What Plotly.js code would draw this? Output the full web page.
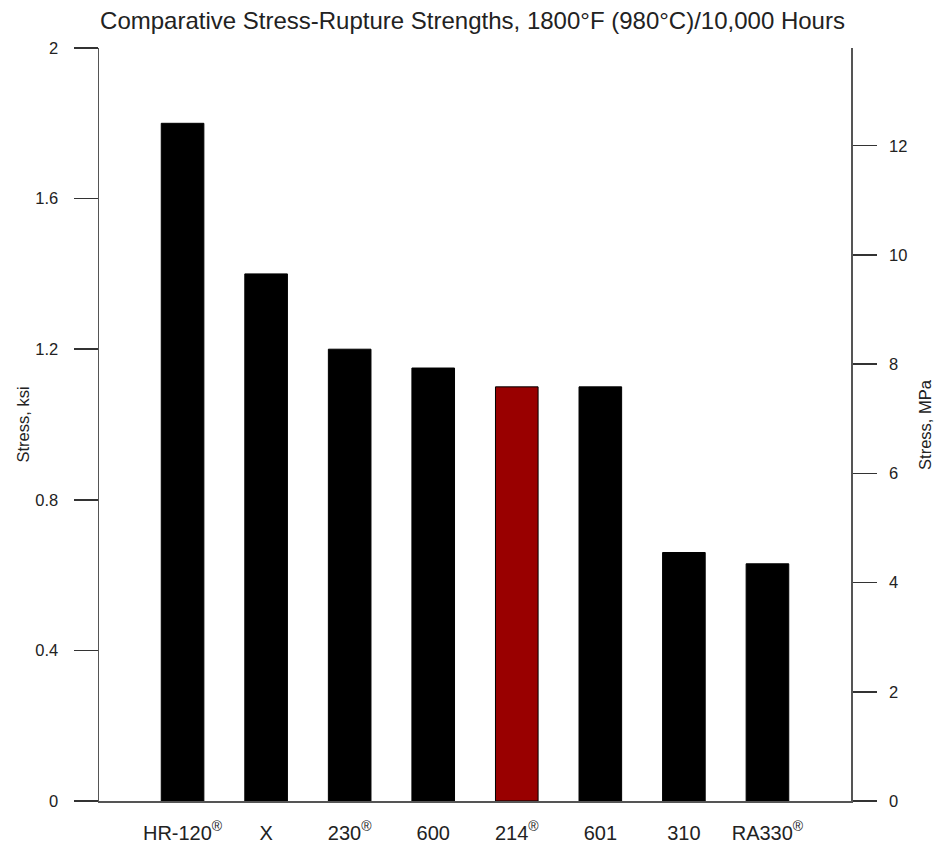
<!DOCTYPE html>
<html>
<head>
<meta charset="utf-8">
<script src="https://cdn.plot.ly/plotly-3.0.1.min.js"></script>
<style>html,body{margin:0;padding:0;background:#fff;}#chart{width:936px;height:848px;}</style>
</head>
<body>
<div id="chart"></div>
<script>
const alloys = ["HR-120", "X", "230", "600", "214", "601", "310", "RA330"];
const tickLabels = ["HR-120<sup>®</sup>", "X", "230<sup>®</sup>", "600", "214<sup>®</sup>", "601", "310", "RA330<sup>®</sup>"];
const stressKsi = [1.80, 1.40, 1.20, 1.15, 1.10, 1.10, 0.66, 0.63];
const barColors = ["#000000", "#000000", "#000000", "#000000", "#990000", "#000000", "#000000", "#000000"];
const KSI_TO_MPA = 6.895;
const leftTicks = [0, 0.4, 0.8, 1.2, 1.6, 2];
const rightTicks = [0, 2, 4, 6, 8, 10, 12];
const rightTitle = "Stress, MPa";

const font = "Liberation Sans, Arial, sans-serif";

const traces = [
  {
    type: "bar",
    x: alloys,
    y: stressKsi,
    marker: { color: barColors, line: { color: "#000000", width: 1 } },
    hoverinfo: "x+y",
    showlegend: false
  },
  {
    type: "scatter",
    mode: "none",
    x: alloys,
    y: stressKsi.map(v => v * KSI_TO_MPA),
    yaxis: "y2",
    hoverinfo: "skip",
    showlegend: false
  }
];

const layout = {
  width: 936,
  height: 848,
  paper_bgcolor: "#ffffff",
  plot_bgcolor: "#ffffff",
  margin: { l: 98.5, r: 84.5, t: 48, b: 47 },
  font: { family: font, color: "#222222" },
  bargap: 0.49,
  title: {
    text: "Comparative Stress-Rupture Strengths, 1800°F (980°C)/10,000 Hours",
    font: { family: font, size: 24, color: "#222222" },
    x: 0.5048, xanchor: "center", xref: "container",
    y: 1 - 21 / 848, yanchor: "middle", yref: "container"
  },
  xaxis: {
    type: "category",
    range: [-1, 8],
    tickvals: alloys,
    ticktext: tickLabels,
    ticks: "",
    showgrid: false,
    zeroline: false,
    showline: true,
    linecolor: "#555555",
    linewidth: 1.5,
    tickfont: { family: font, size: 20, color: "#222222" },
    ticklabelstandoff: 13,
    fixedrange: true
  },
  yaxis: {
    range: [0, 2],
    tickvals: leftTicks,
    ticktext: leftTicks.map(String),
    ticks: "outside",
    ticklen: 24,
    tickwidth: 1.5,
    tickcolor: "#333333",
    showgrid: false,
    zeroline: false,
    showline: true,
    linecolor: "#555555",
    linewidth: 1.5,
    tickfont: { family: font, size: 16.5, color: "#222222" },
    ticklabelstandoff: 12,
    title: { text: "Stress, ksi", font: { family: font, size: 16.5, color: "#222222" }, standoff: 1 },
    fixedrange: true
  },
  yaxis2: {
    overlaying: "y",
    side: "right",
    range: [0, 2 * KSI_TO_MPA],
    tickvals: rightTicks,
    ticktext: rightTicks.map(v => "\u00a0\u00a0" + v),
    ticks: "outside",
    ticklen: 24,
    tickwidth: 1.5,
    tickcolor: "#333333",
    showgrid: false,
    zeroline: false,
    showline: true,
    linecolor: "#555555",
    linewidth: 1.5,
    tickfont: { family: font, size: 16.5, color: "#222222" },
    fixedrange: true
  },
  annotations: [
    {
      text: rightTitle,
      xref: "paper", yref: "paper",
      x: (925 - 98.5) / 753, y: 0.5,
      xanchor: "center", yanchor: "middle",
      textangle: -90,
      showarrow: false,
      font: { family: font, size: 16.5, color: "#222222" }
    }
  ]
};

Plotly.newPlot("chart", traces, layout, { displayModeBar: false, staticPlot: true });
</script>
</body>
</html>
